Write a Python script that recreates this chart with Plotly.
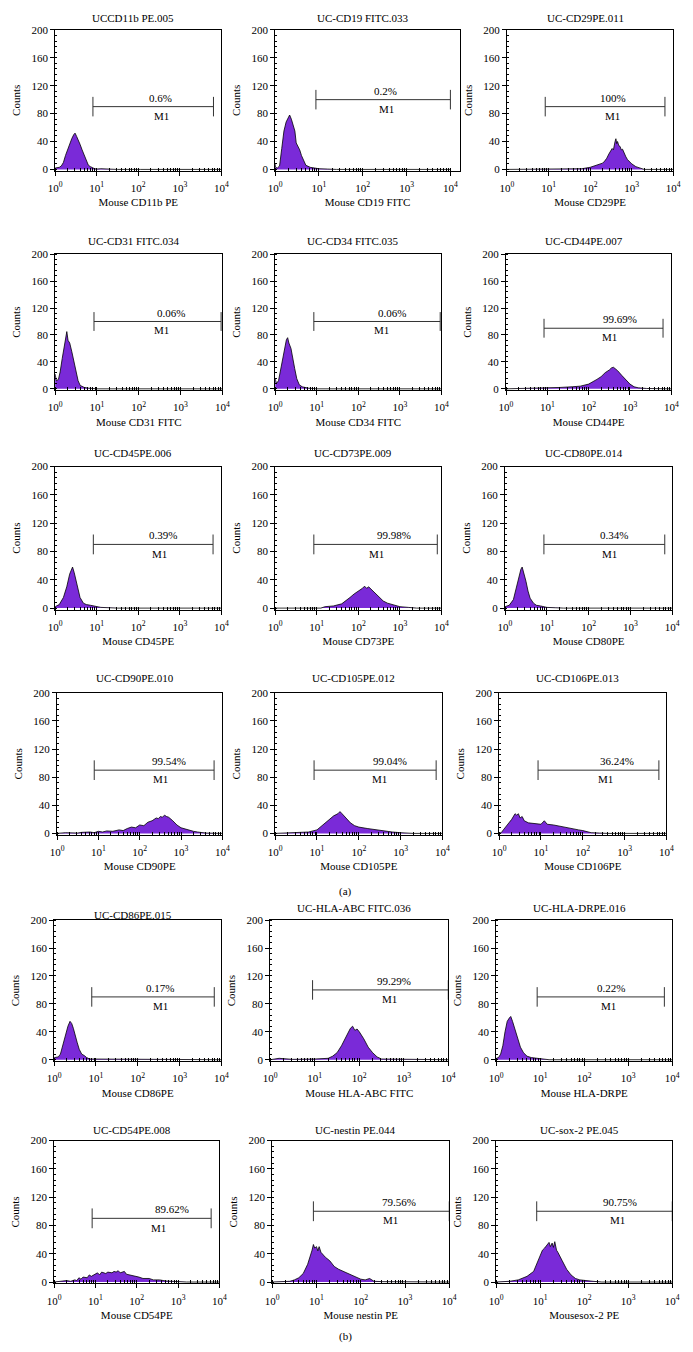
import plotly.graph_objects as go

# ---- data ----------------------------------------------------------------
titles = [
    "UCCD11b PE.005", "UC-CD19 FITC.033", "UC-CD29PE.011",
    "UC-CD31 FITC.034", "UC-CD34 FITC.035", "UC-CD44PE.007",
    "UC-CD45PE.006", "UC-CD73PE.009", "UC-CD80PE.014",
    "UC-CD90PE.010", "UC-CD105PE.012", "UC-CD106PE.013",
    "UC-CD86PE.015", "UC-HLA-ABC FITC.036", "UC-HLA-DRPE.016",
    "UC-CD54PE.008", "UC-nestin PE.044", "UC-sox-2 PE.045",
]
xlabels = [
    "Mouse CD11b PE", "Mouse CD19 FITC", "Mouse CD29PE",
    "Mouse CD31 FITC", "Mouse CD34 FITC", "Mouse CD44PE",
    "Mouse CD45PE", "Mouse CD73PE", "Mouse CD80PE",
    "Mouse CD90PE", "Mouse CD105PE", "Mouse CD106PE",
    "Mouse CD86PE", "Mouse HLA-ABC FITC", "Mouse HLA-DRPE",
    "Mouse CD54PE", "Mouse nestin PE", "Mousesox-2 PE",
]
gate_pct = [
    "0.6%", "0.2%", "100%", "0.06%", "0.06%", "99.69%",
    "0.39%", "99.98%", "0.34%", "99.54%", "99.04%", "36.24%",
    "0.17%", "99.29%", "0.22%", "89.62%", "79.56%", "90.75%",
]
# gate M1 limits (log10 of intensity) and height in counts
gate_lo = [0.91, 0.93, 0.92, 0.93, 0.93, 0.92, 0.92, 0.93, 0.93,
           0.90, 0.93, 0.93, 0.90, 0.95, 0.93, 0.92, 0.93, 0.92]
gate_hi = [3.81, 4.00, 3.80, 3.97, 3.97, 3.80, 3.80, 3.90, 3.82,
           3.80, 3.85, 3.82, 3.83, 4.00, 3.82, 3.80, 4.00, 4.00]
gate_level = [90, 100, 90, 100, 100, 90, 90, 90, 90,
              90, 90, 90, 90, 100, 90, 90, 100, 100]

# histograms: log10(intensity) and counts
cd11b_log = [0, 0.05, 0.1, 0.15, 0.2, 0.25, 0.3, 0.35, 0.4, 0.45, 0.48, 0.52, 0.56,
             0.6, 0.65, 0.7, 0.75, 0.8, 0.85, 0.9, 0.95, 1.0, 1.1, 1.5, 2.0, 2.05, 4]
cd11b_cnt = [2, 2, 3, 5, 10, 20, 28, 38, 44, 50, 52, 47, 42,
             36, 28, 20, 12, 6, 4, 2, 1, 0.5, 1, 0, 0.8, 0, 0]
cd19_log = [0, 0.01, 0.05, 0.1, 0.15, 0.2, 0.25, 0.3, 0.33, 0.37, 0.4, 0.45, 0.48,
            0.52, 0.56, 0.6, 0.65, 0.7, 0.8, 0.9, 1.0, 1.2, 1.4, 4]
cd19_cnt = [8, 3, 2, 5, 30, 55, 68, 75, 78, 72, 66, 55, 38,
            34, 28, 20, 12, 6, 3, 2, 1, 0.5, 0, 0]
cd29_log = [0, 1.6, 1.8, 2.0, 2.1, 2.2, 2.3, 2.35, 2.4, 2.45, 2.5, 2.53, 2.56, 2.58,
            2.6, 2.62, 2.64, 2.66, 2.69, 2.72, 2.75, 2.78, 2.82, 2.86, 2.9, 3.0,
            3.1, 3.2, 3.3, 4]
cd29_cnt = [0, 0, 1, 3, 5, 6, 9, 12, 16, 22, 27, 30, 28, 36,
            40, 44, 37, 40, 34, 33, 28, 29, 22, 18, 14, 8,
            4, 2, 0, 0]
cd31_log = [0, 0.03, 0.08, 0.12, 0.17, 0.22, 0.25, 0.28, 0.31, 0.35, 0.4, 0.45,
            0.5, 0.55, 0.6, 0.7, 0.8, 0.9, 1.0, 4]
cd31_cnt = [22, 12, 14, 25, 45, 65, 75, 85, 72, 68, 55, 40,
            25, 12, 5, 2, 1, 0.5, 0, 0]
cd34_log = [0, 0.03, 0.08, 0.12, 0.17, 0.22, 0.27, 0.3, 0.33, 0.38, 0.42, 0.47,
            0.52, 0.58, 0.65, 0.8, 1.0, 4]
cd34_cnt = [15, 8, 12, 25, 45, 62, 73, 76, 68, 60, 45, 30,
            15, 6, 3, 1, 0, 0]
cd44_log = [0, 0.5, 1.0, 1.3, 1.6, 1.8, 2.0, 2.1, 2.2, 2.3, 2.4, 2.5, 2.55, 2.6,
            2.65, 2.7, 2.8, 2.9, 3.0, 3.1, 3.2, 3.4, 3.6, 4]
cd44_cnt = [0, 0.5, 1.5, 2, 3, 4, 7, 10, 14, 18, 24, 28, 31, 32,
            30, 27, 20, 13, 7, 3, 1.5, 0.5, 0, 0]
cd45_log = [0, 0.1, 0.2, 0.28, 0.35, 0.4, 0.42, 0.46, 0.5, 0.55, 0.6, 0.68, 0.75,
            0.85, 1.0, 1.1, 1.3, 1.5, 4]
cd45_cnt = [2, 5, 15, 30, 48, 55, 58, 50, 40, 25, 15, 7, 5,
            4, 2, 1, 0.5, 0, 0]
cd73_log = [0, 1.1, 1.2, 1.4, 1.6, 1.7, 1.8, 1.9, 2.0, 2.05, 2.1, 2.15, 2.2, 2.25,
            2.3, 2.4, 2.5, 2.6, 2.7, 2.8, 2.9, 3.0, 3.2, 3.4, 4]
cd73_cnt = [0, 0, 2, 3, 6, 10, 15, 20, 24, 25, 28, 31, 28, 30,
            27, 22, 15, 10, 7, 5, 3, 2, 1, 0, 0]
cd80_log = [0, 0.1, 0.2, 0.27, 0.33, 0.38, 0.41, 0.45, 0.5, 0.55, 0.6, 0.68, 0.75,
            0.85, 1.0, 1.2, 1.4, 4]
cd80_cnt = [2, 4, 12, 28, 45, 55, 58, 50, 38, 24, 14, 7, 4,
            3, 1, 0.5, 0, 0]
cd90_log = [0, 0.2, 0.5, 0.6, 0.8, 0.9, 1.0, 1.1, 1.2, 1.35, 1.5, 1.6, 1.7, 1.8,
            1.9, 2.0, 2.1, 2.2, 2.3, 2.4, 2.45, 2.5, 2.55, 2.6, 2.65, 2.7, 2.8,
            2.9, 3.0, 3.1, 3.2, 3.3, 3.4, 3.5, 3.6, 4]
cd90_cnt = [0, 1, 0.5, 1.5, 2, 1, 3, 2, 3.5, 3, 5, 4, 7, 9,
            8, 12, 11, 16, 18, 22, 21, 24, 23, 26, 24, 23, 18,
            12, 8, 6, 4, 3, 2, 1, 0.5, 0]
cd105_log = [0, 0.3, 0.6, 0.8, 1.0, 1.1, 1.2, 1.3, 1.4, 1.5, 1.55, 1.6, 1.7, 1.8,
             1.9, 2.0, 2.2, 2.4, 2.6, 2.8, 3.0, 3.3, 4]
cd105_cnt = [0, 0.5, 1, 2, 5, 10, 15, 20, 25, 28, 31, 28, 22, 15,
             11, 9, 7, 5, 3, 2, 1, 0, 0]
cd106_log = [0, 0.05, 0.1, 0.2, 0.3, 0.38, 0.42, 0.46, 0.5, 0.55, 0.6, 0.7, 0.8,
             0.9, 1.0, 1.08, 1.15, 1.3, 1.45, 1.6, 1.75, 1.9, 2.0, 2.1, 2.2, 2.4, 2.6, 4]
cd106_cnt = [0.5, 1, 5, 12, 20, 28, 26, 28, 22, 24, 18, 15, 14,
             13, 13, 18, 13, 12, 10, 9, 7, 5, 4, 3, 1, 0.5, 0, 0]
cd86_log = [0, 0.05, 0.1, 0.15, 0.2, 0.27, 0.33, 0.38, 0.42, 0.46, 0.5, 0.55, 0.6,
            0.66, 0.72, 0.78, 0.85, 1.0, 1.1, 1.3, 4]
cd86_cnt = [3, 3, 4, 8, 20, 35, 48, 55, 52, 45, 35, 25, 15,
            8, 6, 3, 1, 1, 0.5, 0, 0]
hla_abc_log = [0, 0.1, 0.2, 0.3, 0.5, 1.0, 1.2, 1.3, 1.4, 1.5, 1.6, 1.7, 1.75, 1.8,
               1.85, 1.9, 1.95, 2.0, 2.1, 2.2, 2.3, 2.4, 2.5, 4]
hla_abc_cnt = [0, 1.5, 2, 1.5, 0.5, 1, 2, 2, 5, 10, 20, 32, 38, 45,
               48, 42, 44, 40, 30, 18, 10, 4, 1, 0]
hla_dr_log = [0, 0.05, 0.1, 0.15, 0.2, 0.25, 0.3, 0.33, 0.37, 0.42, 0.48, 0.55,
              0.62, 0.7, 0.8, 0.9, 1.0, 1.2, 4]
hla_dr_cnt = [2, 3, 8, 20, 40, 55, 60, 62, 55, 45, 30, 18,
              10, 5, 3, 2, 1, 0, 0]
cd54_log = [0, 0.3, 0.4, 0.5, 0.55, 0.6, 0.65, 0.7, 0.8, 0.85, 0.9, 1.0, 1.05,
            1.1, 1.15, 1.25, 1.3, 1.4, 1.45, 1.5, 1.55, 1.6, 1.7, 1.75, 1.85,
            1.95, 2.05, 2.15, 2.3, 2.4, 2.55, 2.7, 2.9, 3.0, 3.2, 4]
cd54_cnt = [0, 2, 1, 3, 2, 6, 4, 7, 6, 10, 8, 11, 13,
            10, 14, 12, 14, 13, 15, 14, 16, 13, 15, 11, 10,
            8, 7, 5, 5, 3, 3, 1.5, 1, 0.5, 0, 0]
nestin_log = [0, 0.4, 0.5, 0.6, 0.7, 0.8, 0.9, 0.93, 0.96, 1.0, 1.03, 1.06, 1.1,
              1.2, 1.3, 1.4, 1.5, 1.6, 1.7, 1.8, 1.9, 2.0, 2.1, 2.2, 2.3, 2.5, 4]
nestin_cnt = [0, 1, 3, 6, 12, 25, 45, 53, 48, 50, 44, 50, 42,
              35, 30, 22, 18, 15, 12, 9, 6, 4, 3, 5, 1, 0.5, 0]
sox2_log = [0, 0.3, 0.5, 0.7, 0.85, 0.95, 1.05, 1.1, 1.15, 1.2, 1.23, 1.27, 1.3,
            1.33, 1.37, 1.4, 1.5, 1.6, 1.7, 1.8, 1.9, 2.0, 2.2, 2.4, 4]
sox2_cnt = [0, 1, 3, 8, 15, 30, 45, 48, 52, 56, 50, 55, 49,
            57, 45, 42, 30, 18, 10, 5, 3, 2, 1, 0, 0]

hist_log = [cd11b_log, cd19_log, cd29_log, cd31_log, cd34_log, cd44_log,
            cd45_log, cd73_log, cd80_log, cd90_log, cd105_log, cd106_log,
            cd86_log, hla_abc_log, hla_dr_log, cd54_log, nestin_log, sox2_log]
hist_cnt = [cd11b_cnt, cd19_cnt, cd29_cnt, cd31_cnt, cd34_cnt, cd44_cnt,
            cd45_cnt, cd73_cnt, cd80_cnt, cd90_cnt, cd105_cnt, cd106_cnt,
            cd86_cnt, hla_abc_cnt, hla_dr_cnt, cd54_cnt, nestin_cnt, sox2_cnt]

# ---- layout (pixels of the target picture) --------------------------------
# the page body has an 8px margin, so the figure is shifted and shrunk by that
OFF = 8
W, H = 685, 1336
row_tb = [(24, 166), (250, 387), (464, 608), (692, 835), (921, 1063), (1143, 1287)]
col_lr = [
    [(49, 219), (274, 463), (511, 681)],
    [(49, 220), (274, 444), (510, 679)],
    [(49, 219), (274, 444), (509, 680)],
    [(51, 220), (274, 445), (503, 674)],
    [(48, 219), (269, 451), (500, 680)],
    [(48, 217), (271, 452), (500, 680)],
]
x_max = [4, 4.22, 4, 4, 4, 4, 4, 4, 4, 4, 4, 4, 4, 4, 4, 4, 4, 4]
pct_x = [2.54, 2.52, 2.54, 2.76, 2.8, 2.75, 2.6, 2.86, 2.6,
         2.7, 2.75, 2.83, 2.54, 2.78, 2.6, 2.85, 2.86, 2.82]
m1_x = [2.55, 2.55, 2.55, 2.55, 2.55, 2.5, 2.5, 2.43, 2.5,
        2.5, 2.5, 2.54, 2.55, 2.67, 2.55, 2.53, 2.67, 2.75]
title_gap = [12, 12, 12, 13, 13, 13, 14, 14, 14, 15, 15, 15, 5, 12, 12, 11, 11, 11]


def fx(p):
    return (p - OFF) / W


def fy(p):
    return 1 - (p - OFF) / H


FONT = "Liberation Serif"
FILL = "#7a2ad8"

fig = go.Figure()
annotations = []
layout = {}

for i in range(18):
    r, c = divmod(i, 3)
    top, bot = row_tb[r]
    left, right = col_lr[r][c]
    n = "" if i == 0 else str(i + 1)
    xa, ya = "x" + n, "y" + n

    # histogram
    fig.add_trace(go.Scatter(
        x=[10 ** v for v in hist_log[i]], y=hist_cnt[i],
        mode="lines", fill="tozeroy", fillcolor=FILL,
        line=dict(color="black", width=0.8),
        xaxis=xa, yaxis=ya, showlegend=False, hoverinfo="skip",
    ))

    # M1 gate bar with end ticks
    lo, hi, lv = 10 ** gate_lo[i], 10 ** gate_hi[i], gate_level[i]
    fig.add_trace(go.Scatter(
        x=[lo, lo, None, lo, hi, None, hi, hi],
        y=[lv - 14, lv + 14, None, lv, lv, None, lv - 14, lv + 14],
        mode="lines", line=dict(color="#333333", width=1),
        xaxis=xa, yaxis=ya, showlegend=False, hoverinfo="skip",
    ))

    layout["xaxis" + n] = dict(
        domain=[fx(left), fx(right)], anchor=ya, type="log",
        range=[0, x_max[i]],
        tickvals=[1, 10, 100, 1000, 10000],
        ticktext=["10<sup>%d</sup>" % k for k in range(5)],
        ticks="outside", ticklen=4, tickcolor="black",
        ticklabelstandoff=3,
        minor=dict(ticks="inside", ticklen=3, dtick="D1", tickcolor="black"),
        showline=True, mirror=True, linecolor="black", linewidth=1,
        showgrid=False, zeroline=False,
        tickfont=dict(family=FONT, size=11, color="black"),
        title=dict(text=xlabels[i], font=dict(family=FONT, size=11, color="black"),
                   standoff=5),
    )
    layout["yaxis" + n] = dict(
        domain=[fy(bot), fy(top)], anchor=xa,
        range=[-2, 200], tickvals=[0, 40, 80, 120, 160, 200],
        ticks="outside", ticklen=4, tickcolor="black",
        minor=dict(ticks="inside", ticklen=2, dtick=8, tickcolor="black"),
        showline=True, mirror=True, linecolor="black", linewidth=1,
        showgrid=False, zeroline=False,
        tickfont=dict(family=FONT, size=11, color="black"),
        title=dict(text="Counts", font=dict(family=FONT, size=11, color="black"),
                   standoff=8),
    )

    annotations.append(dict(
        text=titles[i], xref="paper", yref="paper",
        x=fx((left + right) / 2 - 5), y=fy(top - title_gap[i]),
        xanchor="center", yanchor="middle",
        showarrow=False, font=dict(family=FONT, size=11, color="black"),
    ))
    annotations.append(dict(
        text=gate_pct[i], xref=xa, yref=ya, x=pct_x[i], y=lv + 13,
        xanchor="center", yanchor="middle",
        showarrow=False, font=dict(family=FONT, size=11, color="black"),
    ))
    annotations.append(dict(
        text="M1", xref=xa, yref=ya, x=m1_x[i], y=lv - 13,
        xanchor="center", yanchor="middle",
        showarrow=False, font=dict(family=FONT, size=11, color="black"),
    ))

for label, py in [("(a)", 892), ("(b)", 1340)]:
    annotations.append(dict(
        text=label, xref="paper", yref="paper", x=fx(346), y=fy(py),
        xanchor="center", yanchor="middle",
        showarrow=False, font=dict(family=FONT, size=11, color="black"),
    ))

fig.update_layout(
    width=W, height=H,
    margin=dict(l=0, r=0, t=0, b=0),
    paper_bgcolor="white", plot_bgcolor="white",
    annotations=annotations,
    **layout,
)

fig.write_html("out.html")
